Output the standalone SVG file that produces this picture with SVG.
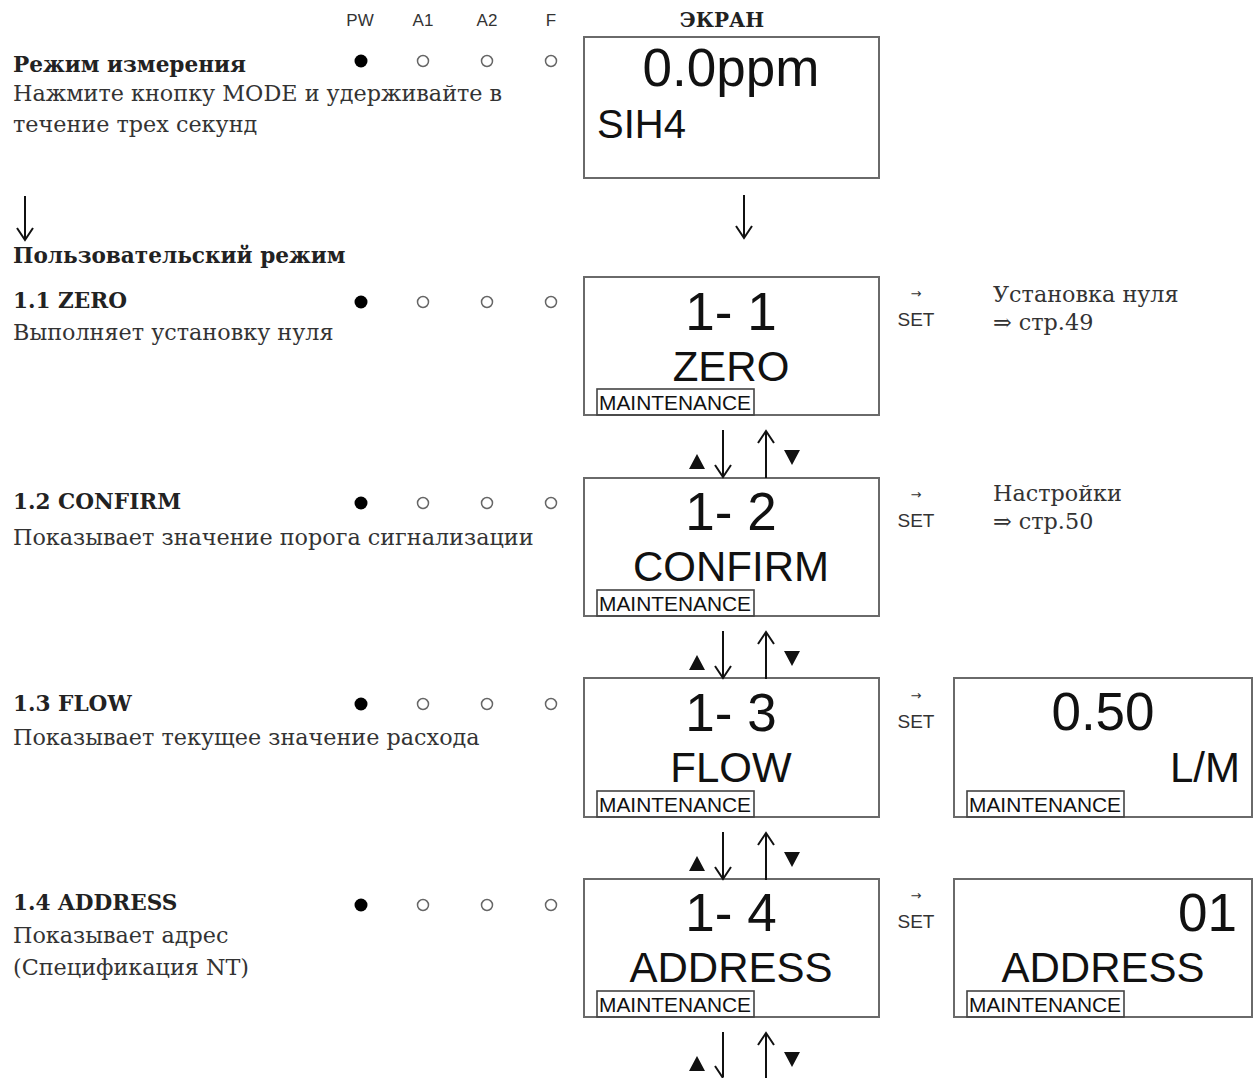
<svg xmlns="http://www.w3.org/2000/svg" width="1255" height="1078" viewBox="0 0 1255 1078">
<style>
.bg{fill:#fff}
.scr{fill:#fff;stroke:#6a6a6a;stroke-width:2}
.mt{fill:none;stroke:#444;stroke-width:1.6}
.mtt{font-family:"Liberation Sans",Arial,sans-serif;font-size:20px;fill:#111}
.big{font-family:"Liberation Sans",Arial,sans-serif;font-size:53px;fill:#111;text-anchor:middle}
.mid{font-family:"Liberation Sans",Arial,sans-serif;font-size:42px;fill:#111;text-anchor:middle}
.hdr{font-family:"Liberation Sans",Arial,sans-serif;font-size:17px;fill:#333;text-anchor:middle}
.set{font-family:"Liberation Sans",Arial,sans-serif;font-size:19px;fill:#333;text-anchor:middle}
.sa{font-family:"DejaVu Sans",sans-serif;font-size:13px;fill:#333;text-anchor:middle}
.b{font-family:"DejaVu Serif",serif;font-size:21.6px;font-weight:bold;fill:#222}
.r{font-family:"DejaVu Serif",serif;font-size:22.3px;fill:#333}
.on{fill:#000}
.off{fill:none;stroke:#666;stroke-width:1.5}
.ln{stroke:#111;stroke-width:2;fill:none}
.tri{fill:#111}
</style>
<rect class="bg" x="0" y="0" width="1255" height="1078"/>

<g id="header">
<text class="hdr" x="360" y="26">PW</text>
<text class="hdr" x="423" y="26">A1</text>
<text class="hdr" x="487" y="26">A2</text>
<text class="hdr" x="551" y="26">F</text>
<text x="722" y="27" style="font-family:'DejaVu Serif',serif;font-size:20px;font-weight:bold;fill:#222;text-anchor:middle">ЭКРАН</text>
</g>

<g id="measure-mode">
<text class="b" x="13" y="72">Режим измерения</text>
<text class="r" x="13" y="101">Нажмите кнопку MODE и удерживайте в</text>
<text class="r" x="13" y="132">течение трех секунд</text>
<circle class="on" cx="361" cy="61" r="6.5"/><circle class="off" cx="423" cy="61" r="5.5"/><circle class="off" cx="487" cy="61" r="5.5"/><circle class="off" cx="551" cy="61" r="5.5"/>
</g>

<g id="screen-measure">
<rect class="scr" x="584" y="37" width="295" height="141"/>
<text class="big" x="731" y="86">0.0ppm</text>
<text x="597" y="138" style="font-family:'Liberation Sans',Arial,sans-serif;font-size:40px;fill:#111">SIH4</text>
</g>

<g id="user-mode">
<text class="b" x="13" y="263">Пользовательский режим</text>
</g>

<g id="item-1-1">
<text class="b" x="13" y="308">1.1 ZERO</text>
<text class="r" x="13" y="340">Выполняет установку нуля</text>
<circle class="on" cx="361" cy="302" r="6.5"/><circle class="off" cx="423" cy="302" r="5.5"/><circle class="off" cx="487" cy="302" r="5.5"/><circle class="off" cx="551" cy="302" r="5.5"/>
<rect class="scr" x="584" y="277" width="295" height="138"/>
<text class="big" x="731" y="330">1- 1</text>
<text class="mid" x="731" y="381">ZERO</text>
<rect class="mt" x="597" y="389" width="157" height="26"/>
<text class="mtt" x="599" y="410" textLength="152" lengthAdjust="spacingAndGlyphs">MAINTENANCE</text>
<text class="sa" x="916" y="298">→</text>
<text class="set" x="916" y="326">SET</text>
<text class="r" x="993" y="302">Установка нуля</text>
<text class="r" x="993" y="330">⇒ стр.49</text>
</g>

<g id="item-1-2">
<text class="b" x="13" y="509">1.2 CONFIRM</text>
<text class="r" x="13" y="545">Показывает значение порога сигнализации</text>
<circle class="on" cx="361" cy="503" r="6.5"/><circle class="off" cx="423" cy="503" r="5.5"/><circle class="off" cx="487" cy="503" r="5.5"/><circle class="off" cx="551" cy="503" r="5.5"/>
<rect class="scr" x="584" y="478" width="295" height="138"/>
<text class="big" x="731" y="530">1- 2</text>
<text class="mid" x="731" y="581">CONFIRM</text>
<rect class="mt" x="597" y="590" width="157" height="26"/>
<text class="mtt" x="599" y="611" textLength="152" lengthAdjust="spacingAndGlyphs">MAINTENANCE</text>
<text class="sa" x="916" y="499">→</text>
<text class="set" x="916" y="527">SET</text>
<text class="r" x="993" y="501">Настройки</text>
<text class="r" x="993" y="529">⇒ стр.50</text>
</g>

<g id="item-1-3">
<text class="b" x="13" y="711">1.3 FLOW</text>
<text class="r" x="13" y="745">Показывает текущее значение расхода</text>
<circle class="on" cx="361" cy="704" r="6.5"/><circle class="off" cx="423" cy="704" r="5.5"/><circle class="off" cx="487" cy="704" r="5.5"/><circle class="off" cx="551" cy="704" r="5.5"/>
<rect class="scr" x="584" y="678" width="295" height="139"/>
<text class="big" x="731" y="731">1- 3</text>
<text class="mid" x="731" y="782">FLOW</text>
<rect class="mt" x="597" y="791" width="157" height="26"/>
<text class="mtt" x="599" y="812" textLength="152" lengthAdjust="spacingAndGlyphs">MAINTENANCE</text>
<text class="sa" x="916" y="700">→</text>
<text class="set" x="916" y="728">SET</text>
</g>

<g id="flow-value">
<rect class="scr" x="954" y="678" width="298" height="139"/>
<text class="big" x="1103" y="730">0.50</text>
<text x="1240" y="782" style="font-family:'Liberation Sans',Arial,sans-serif;font-size:42px;fill:#111;text-anchor:end">L/M</text>
<rect class="mt" x="967" y="791" width="157" height="26"/>
<text class="mtt" x="969" y="812" textLength="152" lengthAdjust="spacingAndGlyphs">MAINTENANCE</text>
</g>

<g id="item-1-4">
<text class="b" x="13" y="910">1.4 ADDRESS</text>
<text class="r" x="13" y="943">Показывает адрес</text>
<text class="r" x="13" y="975">(Спецификация NT)</text>
<circle class="on" cx="361" cy="905" r="6.5"/><circle class="off" cx="423" cy="905" r="5.5"/><circle class="off" cx="487" cy="905" r="5.5"/><circle class="off" cx="551" cy="905" r="5.5"/>
<rect class="scr" x="584" y="879" width="295" height="138"/>
<text class="big" x="731" y="931">1- 4</text>
<text class="mid" x="731" y="982">ADDRESS</text>
<rect class="mt" x="597" y="991" width="157" height="26"/>
<text class="mtt" x="599" y="1012" textLength="152" lengthAdjust="spacingAndGlyphs">MAINTENANCE</text>
<text class="sa" x="916" y="900">→</text>
<text class="set" x="916" y="928">SET</text>
</g>

<g id="address-value">
<rect class="scr" x="954" y="879" width="298" height="138"/>
<text x="1237" y="931" style="font-family:'Liberation Sans',Arial,sans-serif;font-size:53px;fill:#111;text-anchor:end">01</text>
<text class="mid" x="1103" y="982">ADDRESS</text>
<rect class="mt" x="967" y="991" width="157" height="26"/>
<text class="mtt" x="969" y="1012" textLength="152" lengthAdjust="spacingAndGlyphs">MAINTENANCE</text>
</g>

<g id="connectors">
<path class="ln" d="M25 196 V239 M17 228 L25 240 L33 228"/>
<path class="ln" d="M744 195 V237 M736 226 L744 238 L752 226"/>
<g id="nav-1">
<path class="ln" d="M723 430 V476 M715 465 L723 477 L731 465"/>
<path class="ln" d="M766 478 V432 M758 443 L766 431 L774 443"/>
<polygon class="tri" points="689,469 705,469 697,454"/>
<polygon class="tri" points="784,450 800,450 792,465"/>
</g>
<g id="nav-2">
<path class="ln" d="M723 631 V677 M715 666 L723 678 L731 666"/>
<path class="ln" d="M766 679 V633 M758 644 L766 632 L774 644"/>
<polygon class="tri" points="689,670 705,670 697,655"/>
<polygon class="tri" points="784,651 800,651 792,666"/>
</g>
<g id="nav-3">
<path class="ln" d="M723 832 V878 M715 867 L723 879 L731 867"/>
<path class="ln" d="M766 880 V834 M758 845 L766 833 L774 845"/>
<polygon class="tri" points="689,871 705,871 697,856"/>
<polygon class="tri" points="784,852 800,852 792,867"/>
</g>
<g id="nav-4">
<path class="ln" d="M723 1032 V1077 M715 1066 L723 1078"/>
<path class="ln" d="M766 1078 V1034 M758 1045 L766 1033 L774 1045"/>
<polygon class="tri" points="689,1071 705,1071 697,1056"/>
<polygon class="tri" points="784,1052 800,1052 792,1067"/>
</g>
</g>
</svg>
